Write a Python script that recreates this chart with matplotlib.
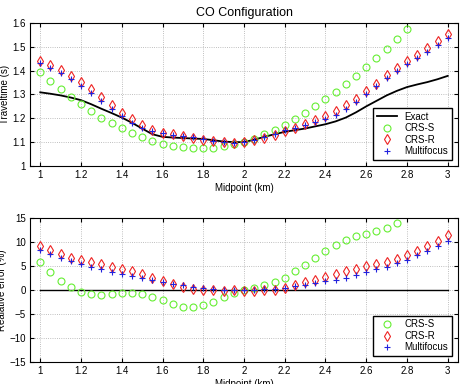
import matplotlib
matplotlib.use("Agg")
import matplotlib.pyplot as plt

plt.rcParams['font.family'] = ['Liberation Sans', 'DejaVu Sans']
plt.rcParams['xtick.direction'] = 'in'
plt.rcParams['ytick.direction'] = 'in'

midpoint = [1.0, 1.05, 1.1, 1.15, 1.2, 1.25, 1.3, 1.35, 1.4, 1.45, 1.5, 1.55, 1.6, 1.65,
            1.7, 1.75, 1.8, 1.85, 1.9, 1.95, 2.0, 2.05, 2.1, 2.15, 2.2, 2.25, 2.3, 2.35,
            2.4, 2.45, 2.5, 2.55, 2.6, 2.65, 2.7, 2.75, 2.8, 2.85, 2.9, 2.95, 3.0]

# traveltimes (s)
exact = [1.309, 1.303, 1.296, 1.287, 1.276, 1.259, 1.240, 1.222, 1.203, 1.181, 1.157,
         1.133, 1.122, 1.119, 1.117, 1.115, 1.113, 1.108, 1.102, 1.100, 1.100, 1.110,
         1.122, 1.133, 1.143, 1.150, 1.157, 1.166, 1.175, 1.187, 1.203, 1.225, 1.250,
         1.273, 1.296, 1.315, 1.331, 1.342, 1.352, 1.364, 1.378]
crs_s = [1.393, 1.357, 1.322, 1.290, 1.260, 1.231, 1.203, 1.180, 1.158, 1.138, 1.122,
         1.105, 1.094, 1.085, 1.078, 1.076, 1.074, 1.077, 1.084, 1.091, 1.099, 1.113,
         1.133, 1.152, 1.173, 1.197, 1.222, 1.250, 1.280, 1.312, 1.345, 1.379, 1.417,
         1.453, 1.492, 1.531, 1.573]
crs_r = [1.442, 1.424, 1.401, 1.376, 1.351, 1.322, 1.290, 1.257, 1.224, 1.196, 1.171,
         1.152, 1.140, 1.133, 1.124, 1.119, 1.108, 1.104, 1.101, 1.097, 1.101, 1.108,
         1.119, 1.130, 1.146, 1.159, 1.175, 1.192, 1.208, 1.229, 1.255, 1.280, 1.313,
         1.345, 1.380, 1.411, 1.439, 1.467, 1.495, 1.523, 1.554]
multifocus = [1.431, 1.413, 1.390, 1.365, 1.337, 1.306, 1.273, 1.241, 1.208, 1.182, 1.161,
              1.147, 1.139, 1.131, 1.127, 1.122, 1.113, 1.106, 1.102, 1.097, 1.102, 1.110,
              1.122, 1.136, 1.150, 1.161, 1.173, 1.183, 1.197, 1.213, 1.238, 1.267, 1.301,
              1.334, 1.368, 1.399, 1.429, 1.455, 1.478, 1.506, 1.536]

# relative errors (%)
err_s = [5.9, 3.8, 2.0, 0.6, -0.35, -0.8, -1.0, -0.9, -0.7, -0.6, -0.8, -1.4, -2.1, -2.9,
         -3.5, -3.6, -3.1, -2.4, -1.5, -0.6, 0.0, 0.5, 1.0, 1.7, 2.6, 3.9, 5.3, 6.7, 8.2,
         9.4, 10.5, 11.2, 11.7, 12.3, 12.9, 13.9]
err_r = [9.1, 8.3, 7.5, 6.7, 6.3, 5.9, 5.5, 4.9, 4.5, 4.0, 3.3, 2.6, 1.9, 1.2, 0.6, 0.3,
         0.1, 0.1, -0.1, 0.0, -0.1, -0.1, 0.0, 0.1, 0.5, 1.1, 1.7, 2.2, 2.7, 3.3, 4.0, 4.5,
         5.0, 5.5, 5.9, 6.5, 7.3, 8.2, 9.2, 10.3, 11.4]
err_m = [8.3, 7.6, 6.7, 6.1, 5.5, 4.9, 4.4, 3.8, 3.4, 3.0, 2.6, 2.2, 1.7, 1.3, 1.0, 0.7,
         0.4, 0.2, 0.1, 0.1, 0.1, 0.1, 0.2, 0.3, 0.5, 0.8, 1.1, 1.5, 1.9, 2.2, 2.6, 3.1,
         3.7, 4.4, 4.9, 5.6, 6.3, 7.3, 8.2, 9.1, 10.3]

green = '#66ee33'
red = '#ee2222'
blue = '#2222dd'

fig = plt.figure(figsize=(4.63, 3.84), dpi=100)
ax1 = fig.add_axes([0.065, 0.568, 0.924, 0.372])
ax2 = fig.add_axes([0.065, 0.057, 0.924, 0.375])

ax1.plot(midpoint, exact, color='black', lw=1.3, label='Exact')
ax1.plot(midpoint[:len(crs_s)], crs_s, 'o', mfc='none', mec=green, ms=5, mew=0.8, label='CRS-S')
ax1.plot(midpoint, crs_r, 'd', mfc='none', mec=red, ms=5.5, mew=0.8, label='CRS-R')
ax1.plot(midpoint, multifocus, '+', color=blue, ms=5, mew=0.8, label='Multifocus')
ax1.set_xlim(0.95, 3.05)
ax1.set_ylim(1.0, 1.6)
ax1.set_yticks([1.0, 1.1, 1.2, 1.3, 1.4, 1.5, 1.6])
ax1.set_yticklabels(['1', '1.1', '1.2', '1.3', '1.4', '1.5', '1.6'])
ax1.set_title('CO Configuration', fontsize=9, pad=5)
ax1.set_ylabel('Traveltime (s)', fontsize=7, labelpad=2)
ax1.set_xlabel('Midpoint (km)', fontsize=7, labelpad=2)
ax1.legend(loc='lower right', fontsize=7, fancybox=False, edgecolor='black',
           framealpha=1, borderaxespad=0.6, handlelength=2.0, labelspacing=0.15)

ax2.plot(midpoint, [0] * len(midpoint), color='black', lw=1.0)
ax2.plot(midpoint[:len(err_s)], err_s, 'o', mfc='none', mec=green, ms=5, mew=0.8, label='CRS-S')
ax2.plot(midpoint, err_r, 'd', mfc='none', mec=red, ms=5.5, mew=0.8, label='CRS-R')
ax2.plot(midpoint, err_m, '+', color=blue, ms=5, mew=0.8, label='Multifocus')
ax2.set_xlim(0.95, 3.05)
ax2.set_ylim(-15, 15)
ax2.set_yticks([-15, -10, -5, 0, 5, 10, 15])
ax2.set_yticklabels(['\u221215', '\u221210', '\u22125', '0', '5', '10', '15'])
ax2.set_ylabel('Realative error (%)', fontsize=7, labelpad=2)
ax2.set_xlabel('Midpoint (km)', fontsize=7, labelpad=2)
ax2.legend(loc='lower right', fontsize=7, fancybox=False, edgecolor='black',
           framealpha=1, borderaxespad=0.6, handlelength=2.0, labelspacing=0.15)

for ax in (ax1, ax2):
    ax.set_xticks([1, 1.2, 1.4, 1.6, 1.8, 2, 2.2, 2.4, 2.6, 2.8, 3])
    ax.set_xticklabels(['1', '1.2', '1.4', '1.6', '1.8', '2', '2.2', '2.4', '2.6', '2.8', '3'])
    ax.grid(True, linestyle=':', color='#aaaaaa', lw=0.6)
    ax.tick_params(labelsize=7, top=True, right=True, length=3, pad=3)
    for s in ax.spines.values():
        s.set_linewidth(0.8)

fig.savefig('out.png', dpi=100)
